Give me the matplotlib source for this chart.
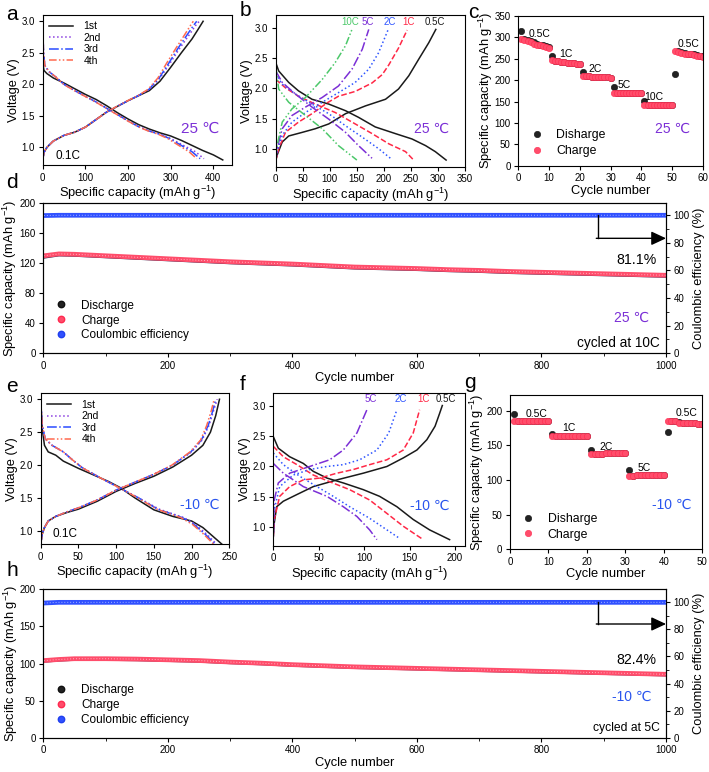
import matplotlib.pyplot as plt
import numpy as np
from matplotlib.lines import Line2D

plt.rcParams['font.family'] = ['Liberation Sans', 'DejaVu Sans']
plt.rcParams['mathtext.default'] = 'regular'
plt.rcParams['axes.linewidth'] = 0.8
plt.rcParams['xtick.labelsize'] = 7
plt.rcParams['ytick.labelsize'] = 7
plt.rcParams['xtick.major.size'] = 3
plt.rcParams['ytick.major.size'] = 3
plt.rcParams['xtick.major.width'] = 0.8
plt.rcParams['ytick.major.width'] = 0.8
plt.rcParams['xtick.major.pad'] = 2.5
plt.rcParams['ytick.major.pad'] = 2.5

# ---------------- data ----------------
# panel a (25 C, 0.1C, cycles 1-4)
a_dis1_q = [0, 3, 10, 25, 50, 75, 100, 125, 150, 175, 200, 225, 250, 275, 300, 325, 350, 375, 400, 422]
a_dis1_v = [2.35, 2.22, 2.17, 2.10, 2.02, 1.93, 1.84, 1.76, 1.66, 1.55, 1.45, 1.36, 1.29, 1.23, 1.18, 1.11, 1.03, 0.95, 0.88, 0.80]
a_dis_v = [2.95, 2.5, 2.3, 2.2, 2.12, 2.0, 1.9, 1.81, 1.72, 1.62, 1.52, 1.42, 1.33, 1.26, 1.21, 1.14, 1.03, 0.93, 0.82]
a_dis2_q = [0, 2, 5, 15, 30, 50, 75, 100, 125, 150, 175, 200, 225, 250, 275, 300, 330, 358, 378]
a_dis3_q = [0, 2, 5, 15, 30, 50, 75, 100, 125, 150, 175, 200, 224, 249, 273, 297, 325, 350, 369]
a_dis4_q = [0, 2, 5, 15, 30, 49, 74, 99, 124, 149, 174, 199, 223, 247, 270, 293, 319, 343, 361]
a_chg1_q = [0, 3, 10, 25, 50, 75, 100, 125, 150, 175, 200, 225, 250, 275, 300, 325, 350, 365, 376]
a_chg1_v = [0.8, 0.92, 1.0, 1.1, 1.19, 1.24, 1.32, 1.44, 1.56, 1.65, 1.74, 1.82, 1.9, 2.05, 2.27, 2.5, 2.72, 2.88, 3.0]
a_chg_v = [0.8, 0.92, 1.0, 1.1, 1.19, 1.24, 1.32, 1.44, 1.56, 1.65, 1.74, 1.82, 1.92, 2.1, 2.33, 2.58, 2.8, 2.93, 3.0]
a_chg2_q = [0, 3, 10, 25, 50, 75, 100, 125, 150, 175, 200, 225, 250, 275, 298, 322, 345, 358, 367]
a_chg3_q = [0, 3, 10, 25, 50, 75, 100, 125, 150, 175, 200, 224, 249, 273, 295, 318, 340, 353, 361]
a_chg4_q = [0, 3, 10, 25, 50, 75, 100, 125, 150, 174, 199, 223, 247, 270, 290, 313, 334, 346, 353]

# panel b (25 C, rates)
b_rates = ['0.5C', '1C', '2C', '5C', '10C']
b_dis_q = [[0, 5.5, 24, 42, 67, 98, 129, 153, 184, 221, 252, 277, 295, 315],
           [0, 18, 42, 73, 110, 147, 178, 209, 240, 255],
           [0, 12, 36, 67, 98, 129, 160, 190, 212],
           [0, 12, 36, 67, 98, 129, 153, 178],
           [0, 5.5, 24, 55, 86, 116, 150]]
b_dis_v = [[2.43, 2.29, 2.10, 1.96, 1.82, 1.74, 1.63, 1.52, 1.36, 1.25, 1.16, 1.05, 0.95, 0.81],
           [2.15, 2.01, 1.87, 1.74, 1.60, 1.41, 1.25, 1.08, 0.95, 0.81],
           [2.24, 2.07, 1.91, 1.74, 1.58, 1.38, 1.19, 1.0, 0.84],
           [2.29, 2.1, 1.91, 1.69, 1.49, 1.27, 1.05, 0.84],
           [2.37, 1.99, 1.77, 1.55, 1.33, 1.05, 0.81]]
b_chg_q = [[0, 2.5, 12, 24, 49, 73, 98, 129, 166, 203, 227, 246, 264, 283, 296],
           [0, 5.5, 18, 42, 67, 95, 116, 147, 178, 197, 209, 227, 243],
           [0, 2.5, 12, 30, 55, 86, 116, 147, 172, 190, 208],
           [0, 2.5, 12, 30, 55, 86, 116, 141, 160, 172],
           [0, 2.5, 12, 30, 55, 86, 110, 129, 141]]
b_chg_v = [[0.8, 0.89, 1.11, 1.21, 1.27, 1.33, 1.41, 1.58, 1.71, 1.82, 1.99, 2.21, 2.48, 2.76, 2.98],
           [0.8, 1.0, 1.27, 1.44, 1.58, 1.76, 1.87, 1.95, 2.09, 2.23, 2.39, 2.67, 2.97],
           [0.8, 0.95, 1.22, 1.44, 1.6, 1.77, 1.93, 2.1, 2.32, 2.59, 2.98],
           [0.8, 1.0, 1.33, 1.55, 1.69, 1.85, 2.04, 2.32, 2.65, 2.98],
           [0.8, 1.05, 1.44, 1.66, 1.85, 2.15, 2.43, 2.71, 2.98]]

# panel c (25 C rate capability)
c_cycle = list(range(1, 61))
c_dis = [316, 297, 294, 291, 288, 285, 283, 281, 279, 277,
         257, 245, 244, 243, 242, 241, 240, 239, 238, 237,
         220, 209, 209, 208, 208, 208, 207, 207, 207, 206,
         183, 171, 171, 171, 171, 171, 171, 171, 171, 171,
         152, 142, 142, 142, 142, 142, 142, 142, 142, 142,
         215, 268, 266, 264, 262, 261, 260, 258, 257, 256]
c_chg = [297, 294, 291, 288, 285, 283, 281, 279, 277, 275,
         246, 245, 244, 243, 242, 241, 240, 239, 238, 237,
         210, 209, 209, 208, 208, 208, 207, 207, 207, 206,
         171, 171, 171, 171, 171, 171, 171, 171, 171, 171,
         142, 142, 142, 142, 142, 142, 142, 142, 142, 142,
         268, 266, 264, 262, 261, 260, 258, 257, 256, 255]

# panel d (25 C, 10C long cycling)
d_cycle = [1, 25, 50, 100, 150, 200, 250, 300, 350, 400, 450, 500, 550, 600, 650, 700, 750, 800, 850, 900, 950, 1000]
d_chg = [130, 132.5, 132, 130, 128, 126, 124, 122, 120.5, 119, 117, 115, 114, 113, 111.5, 110.5, 109, 108, 107, 106, 105, 104]
d_dis = [128, 131, 130.5, 128.5, 126.5, 124.5, 122.5, 120.5, 119, 117.5, 115.5, 113.5, 112.5, 111.5, 110, 109, 107.5, 106.5, 105.5, 104.5, 103.5, 102.5]
d_ce = [99.8, 100, 100, 100, 100, 100, 100, 100, 100, 100, 100, 100, 100, 100, 100, 100, 100, 100, 100, 100, 100, 100]

# panel e (-10 C, 0.1C, cycles 1-4)
e_dis1_q = [0, 2, 5, 10, 20, 30, 50, 70, 90, 105, 125, 150, 175, 200, 215, 228, 240]
e_dis1_v = [3.0, 2.55, 2.3, 2.2, 2.15, 2.06, 1.95, 1.85, 1.75, 1.66, 1.5, 1.32, 1.22, 1.15, 1.05, 0.92, 0.8]
e_dis_v = [3.0, 2.6, 2.4, 2.3, 2.2, 2.08, 1.96, 1.8, 1.65, 1.5, 1.33, 1.2, 1.1, 0.95, 0.8]
e_dis2_q = [0, 2, 6, 15, 30, 42, 55, 80, 105, 130, 157, 190, 205, 220, 233]
e_dis3_q = [0, 2, 6, 15, 30, 42, 55, 80, 105, 130, 155, 188, 203, 218, 231]
e_dis4_q = [0, 2, 6, 15, 30, 42, 55, 80, 105, 129, 154, 186, 201, 216, 229]
e_chg1_q = [0, 2, 5, 10, 20, 35, 50, 75, 100, 125, 150, 175, 200, 215, 225, 232, 237]
e_chg1_v = [0.8, 0.95, 1.05, 1.15, 1.22, 1.28, 1.33, 1.45, 1.6, 1.72, 1.83, 1.97, 2.15, 2.3, 2.5, 2.75, 3.0]
e_chg_v = [0.8, 0.95, 1.05, 1.15, 1.22, 1.29, 1.35, 1.47, 1.62, 1.74, 1.86, 2.0, 2.2, 2.38, 2.6, 2.82, 3.0]
e_chg2_q = [0, 2, 5, 10, 20, 35, 50, 75, 100, 125, 150, 175, 200, 214, 223, 229, 234]
e_chg3_q = [0, 2, 5, 10, 20, 35, 50, 75, 100, 125, 150, 175, 199, 213, 222, 228, 232]
e_chg4_q = [0, 2, 5, 10, 20, 35, 50, 75, 100, 125, 150, 174, 198, 212, 220, 226, 230]

# panel f (-10 C, rates)
f_rates = ['0.5C', '1C', '2C', '5C']
f_dis_q = [[0, 5.5, 18, 33, 44, 59, 77, 99, 117, 136, 154, 172, 194],
           [0, 11, 26, 44, 62, 84, 106, 125, 143, 165],
           [0, 11, 29, 48, 66, 84, 106, 125, 138],
           [0, 11, 33, 59, 77, 92, 106, 114]]
f_dis_v = [[2.49, 2.30, 2.16, 2.05, 1.92, 1.81, 1.73, 1.62, 1.51, 1.34, 1.13, 0.96, 0.8],
           [2.33, 2.16, 2.03, 1.86, 1.75, 1.62, 1.45, 1.23, 1.02, 0.8],
           [2.22, 2.03, 1.84, 1.67, 1.51, 1.34, 1.15, 0.96, 0.83],
           [2.05, 1.89, 1.67, 1.51, 1.34, 1.18, 0.96, 0.8]]
f_chg_q = [[0, 1, 3.7, 11, 26, 44, 70, 99, 125, 143, 158, 169, 178, 183, 186],
           [0, 1, 7, 18, 33, 51, 70, 88, 106, 125, 143, 154, 161],
           [0, 1, 7, 22, 40, 59, 77, 95, 114, 127, 136],
           [0, 1, 5.5, 18, 40, 62, 77, 92, 103]]
f_chg_v = [[0.85, 1.07, 1.34, 1.43, 1.54, 1.67, 1.78, 1.89, 2.0, 2.14, 2.27, 2.44, 2.66, 2.87, 3.0],
           [0.85, 1.13, 1.51, 1.67, 1.78, 1.81, 1.89, 1.95, 2.03, 2.11, 2.27, 2.55, 2.93],
           [0.85, 1.29, 1.67, 1.86, 1.95, 2.0, 2.03, 2.11, 2.27, 2.55, 2.93],
           [0.9, 1.45, 1.73, 1.89, 2.0, 2.11, 2.27, 2.55, 2.93]]

# panel g (-10 C rate capability)
g_cycle = list(range(1, 51))
g_dis = [195, 185, 185, 185, 185, 185, 185, 185, 185, 185,
         167, 163, 163, 163, 163, 163, 163, 163, 163, 163,
         143, 138, 138, 138, 139, 139, 139, 139, 139, 139,
         114, 106, 107, 107, 107, 107, 107, 107, 108, 108,
         170, 186, 186, 184, 183, 183, 182, 182, 181, 181]
g_chg = [185, 185, 185, 185, 185, 185, 185, 185, 185, 185,
         163, 163, 163, 163, 163, 163, 163, 163, 163, 163,
         138, 138, 138, 138, 139, 139, 139, 139, 139, 139,
         106, 106, 107, 107, 107, 107, 107, 107, 108, 108,
         186, 186, 185, 183, 183, 182, 182, 182, 181, 181]

# panel h (-10 C, 5C long cycling)
h_cycle = [1, 25, 50, 100, 150, 200, 250, 300, 350, 400, 450, 500, 550, 600, 650, 700, 750, 800, 850, 900, 950, 1000]
h_chg = [104, 105.5, 106.5, 106.5, 106, 105, 104, 102, 100.5, 98.5, 97, 95.5, 94.5, 93.5, 92.5, 91.5, 90.5, 89.5, 88.5, 87.5, 86.5, 85.5]
h_dis = [103, 104.5, 105.5, 105.5, 105, 104, 103, 101, 99.5, 97.5, 96, 94.5, 93.5, 92.5, 91.5, 90.5, 89.5, 88.5, 87.5, 86.5, 85.5, 84.5]
h_ce = [99.5, 100, 100, 100, 100, 100, 100, 100, 100, 100, 100, 100, 100, 100, 100, 100, 100, 100, 100, 100, 100, 100]

# ---------------- styles ----------------
purple = '#7b2fd6'
blue_txt = '#2a55ee'
pink = '#ff4d6b'
cyc_colors = ['#1a1a1a', '#8a3ee0', '#2a4cff', '#ff6a50']
cyc_styles = ['-', ':', '-.', (0, (5, 1.5, 1, 1.5, 1, 1.5))]
rate_colors = {'0.5C': '#1a1a1a', '1C': '#ff2846', '2C': '#2f55ff', '5C': '#7b2fd6', '10C': '#4cc86a'}
rate_styles = {'0.5C': '-', '1C': '--', '2C': ':', '5C': '-.', '10C': (0, (5, 1.5, 1, 1.5, 1, 1.5))}
cap_label = 'Specific capacity (mAh g$^{-1}$)'

fig = plt.figure(figsize=(7.09, 7.72), dpi=100)


def panel_letter(x, y, s):
    fig.text(x / 709, 1 - y / 772, s, fontsize=15, ha='center', va='center')


def cycles_panel(ax, dis, chg, xmax, ylim, xticks):
    ax.plot(dis[0][0], dis[0][1], color=cyc_colors[0], ls=cyc_styles[0], lw=1.1, label='1st')
    for i in range(1, 4):
        ax.plot(dis[i][0], dis[i][1], color=cyc_colors[i], ls=cyc_styles[i], lw=1.1,
                label=['2nd', '3rd', '4th'][i - 1])
    for i in range(4):
        ax.plot(chg[i][0], chg[i][1], color=cyc_colors[i], ls=cyc_styles[i], lw=1.1)
    ax.set_xlim(0, xmax)
    ax.set_ylim(*ylim)
    ax.set_xticks(xticks)
    ax.set_yticks([1.0, 1.5, 2.0, 2.5, 3.0])
    ax.set_xlabel(cap_label, fontsize=9.3, labelpad=1)
    ax.set_ylabel('Voltage (V)', fontsize=9.3, labelpad=1)
    ax.legend(loc='upper left', frameon=False, fontsize=7.5, handlelength=2.3,
              labelspacing=0.15, borderaxespad=0.2, handletextpad=1.0)


# ---- a ----
ax = fig.add_axes([0.0602, 0.7863, 0.2666, 0.1943])
cycles_panel(ax,
             [(a_dis1_q, a_dis1_v), (a_dis2_q, a_dis_v), (a_dis3_q, a_dis_v), (a_dis4_q, a_dis_v)],
             [(a_chg1_q, a_chg1_v), (a_chg2_q, a_chg_v), (a_chg3_q, a_chg_v), (a_chg4_q, a_chg_v)],
             443, (0.72, 3.1), [0, 100, 200, 300, 400])
ax.text(369, 1.29, '25 \u2103', color=purple, fontsize=11, ha='center', va='center')
ax.text(0.07, 0.02, '0.1C', transform=ax.transAxes, fontsize=8.5, va='bottom')
panel_letter(12, 15, 'a')

# ---- b ----
ax = fig.add_axes([0.3889, 0.7841, 0.267, 0.1965])
for k, r in enumerate(b_rates):
    ax.plot(b_dis_q[k], b_dis_v[k], color=rate_colors[r], ls=rate_styles[r], lw=1.1)
    ax.plot(b_chg_q[k], b_chg_v[k], color=rate_colors[r], ls=rate_styles[r], lw=1.1)
for r, xq in zip(b_rates, [295, 246, 210, 171, 137]):
    ax.text(xq, 3.1, r, color=rate_colors[r], fontsize=7, ha='center', va='center')
ax.set_xlim(0, 350)
ax.set_ylim(0.7, 3.22)
ax.set_xticks(range(0, 351, 50))
ax.set_yticks([1.0, 1.5, 2.0, 2.5, 3.0])
ax.set_xlabel(cap_label, fontsize=9.3, labelpad=1)
ax.set_ylabel('Voltage (V)', fontsize=9.3, labelpad=1)
ax.text(288, 1.32, '25 \u2103', color=purple, fontsize=10, ha='center', va='center')
panel_letter(245, 10, 'b')


def rate_panel(ax, cyc, dis, chg, xmax, ylim, yticks, labels, temp, temp_color, temp_xy):
    ax.plot(cyc, dis, 'o', ms=4.6, mfc='#222222', mec='#111111', mew=0.4, label='Disharge')
    ax.plot(cyc, chg, 'o', ms=4.6, mfc=pink, mec='#ff2a50', mew=0.4, label='Charge')
    for s, x, y in labels:
        ax.text(x, y, s, fontsize=7.5, ha='center', va='center')
    ax.set_xlim(0, xmax)
    ax.set_ylim(*ylim)
    ax.set_xticks(range(0, xmax + 1, 10))
    ax.set_yticks(yticks)
    ax.set_xlabel('Cycle number', fontsize=9.3, labelpad=1)
    ax.set_ylabel(cap_label, fontsize=9.3, labelpad=0)
    ax.text(temp_xy[0], temp_xy[1], temp, color=temp_color, fontsize=10, ha='center', va='center')
    ax.legend(loc='lower left', frameon=False, fontsize=8.8, handletextpad=0.8,
              labelspacing=0.3, borderaxespad=0.3, handlelength=1.6)


# ---- c ----
ax = fig.add_axes([0.731, 0.7854, 0.2605, 0.1939])
rate_panel(ax, c_cycle, c_dis, c_chg, 60, (0, 350), range(0, 351, 50),
           [('0.5C', 6.9, 309), ('1C', 15.4, 262), ('2C', 25, 225), ('5C', 34.5, 189),
            ('10C', 44, 160), ('0.5C', 55.2, 284)],
           '25 \u2103', purple, (50, 87))
panel_letter(473, 12, 'c')


def long_panel(ax, cyc, dis, chg, ce, ylim_r, yticks_l, pct, pct_y, temp, temp_color, temp_y,
               note, note_size, arrow_y):
    ax.plot(cyc, dis, color='#20204a', lw=2.0)
    ax.plot(cyc, chg, color=pink, lw=3.4)
    ax.plot(cyc, chg, color='#ffb3c2', lw=0.7, ls=(0, (1, 2)))
    ax.set_xlim(0, 1000)
    ax.set_ylim(0, 200)
    ax.set_yticks(yticks_l)
    ax.set_xticks(range(0, 1001, 200))
    ax.set_xticks(range(100, 1000, 200), minor=True)
    ax.tick_params(which='minor', length=2)
    ax.set_xlabel('Cycle number', fontsize=9.3, labelpad=1)
    ax.set_ylabel(cap_label, fontsize=9.3, labelpad=0)
    ax2 = ax.twinx()
    ax2.plot(cyc, ce, color='#3050ff', lw=3.4)
    ax2.plot(cyc, ce, color='#a8b8ff', lw=0.7, ls=(0, (1, 2)))
    ax2.set_ylim(0, ylim_r)
    ax2.set_yticks(range(0, 101, 20))
    ax2.set_yticks(range(10, 100, 20), minor=True)
    ax2.tick_params(which='minor', length=2)
    ax2.set_ylabel('Coulombic efficiency (%)', fontsize=9.3, labelpad=2)
    ax2.plot([890, 890], [100, arrow_y], color='k', lw=1)
    ax2.annotate('', xy=(1000, arrow_y), xytext=(888, arrow_y),
                 arrowprops=dict(arrowstyle='-|>,head_length=0.6,head_width=0.28',
                                 mutation_scale=15, color='k', lw=1, shrinkA=0, shrinkB=0))
    ax2.text(985, pct_y, pct, fontsize=10.2, ha='right', va='center')
    ax2.text(945, temp_y, temp, color=temp_color, fontsize=10, ha='center', va='center')
    ax2.text(990, 7.5, note, fontsize=note_size, ha='right', va='center')
    handles = [Line2D([], [], ls='none', marker='o', ms=4.6, mfc='#222222', mec='#111111'),
               Line2D([], [], ls='none', marker='o', ms=4.6, mfc=pink, mec='#ff2a50'),
               Line2D([], [], ls='none', marker='o', ms=4.6, mfc='#3050ff', mec='#2040ee')]
    ax.legend(handles, ['Discharge', 'Charge', 'Coulombic efficiency'], loc='lower left',
              frameon=False, fontsize=8.5, handletextpad=1.2, labelspacing=0.25,
              borderaxespad=0.6, handlelength=1.0)


# ---- d ----
ax = fig.add_axes([0.0611, 0.5424, 0.8783, 0.1943])
long_panel(ax, d_cycle, d_dis, d_chg, d_ce, 108.7, range(0, 201, 40), '81.1%', 67.6,
           '25 \u2103', purple, 26, 'cycled at 10C', 9.8, 83.3)
panel_letter(12, 182, 'd')

# ---- e ----
ax = fig.add_axes([0.0574, 0.2953, 0.266, 0.1952])
cycles_panel(ax,
             [(e_dis1_q, e_dis1_v), (e_dis2_q, e_dis_v), (e_dis3_q, e_dis_v), (e_dis4_q, e_dis_v)],
             [(e_chg1_q, e_chg1_v), (e_chg2_q, e_chg_v), (e_chg3_q, e_chg_v), (e_chg4_q, e_chg_v)],
             250, (0.8, 3.09), range(0, 251, 50))
ax.text(211, 1.39, '-10 \u2103', color=blue_txt, fontsize=10, ha='center', va='center')
ax.text(0.06, 0.03, '0.1C', transform=ax.transAxes, fontsize=8.5, va='bottom')
panel_letter(12, 387, 'e')

# ---- f ----
ax = fig.add_axes([0.3855, 0.2931, 0.2704, 0.1974])
for k, r in enumerate(f_rates):
    ax.plot(f_dis_q[k], f_dis_v[k], color=rate_colors[r], ls=rate_styles[r], lw=1.1)
    ax.plot(f_chg_q[k], f_chg_v[k], color=rate_colors[r], ls=rate_styles[r], lw=1.1)
for r, xq in zip(f_rates, [190, 165, 140, 107]):
    ax.text(xq, 3.1, r, color=rate_colors[r], fontsize=7, ha='center', va='center')
ax.set_xlim(0, 211)
ax.set_ylim(0.7, 3.2)
ax.set_xticks(range(0, 201, 50))
ax.set_yticks([1.0, 1.5, 2.0, 2.5, 3.0])
ax.set_xlabel(cap_label, fontsize=9.3, labelpad=1)
ax.set_ylabel('Voltage (V)', fontsize=9.3, labelpad=1)
ax.text(172, 1.36, '-10 \u2103', color=blue_txt, fontsize=10, ha='center', va='center')
panel_letter(243, 385, 'f')

# ---- g ----
ax = fig.add_axes([0.7193, 0.2885, 0.2712, 0.1999])
rate_panel(ax, g_cycle, g_dis, g_chg, 50, (0, 223), range(0, 201, 50),
           [('0.5C', 6.9, 196), ('1C', 15.2, 175), ('2C', 25, 148), ('5C', 35, 117), ('0.5C', 46, 197)],
           '-10 \u2103', blue_txt, (42, 64))
panel_letter(470, 383, 'g')

# ---- h ----
ax = fig.add_axes([0.0611, 0.0444, 0.8783, 0.1922])
long_panel(ax, h_cycle, h_dis, h_chg, h_ce, 109.6, range(0, 201, 50), '82.4%', 57.4,
           '-10 \u2103', blue_txt, 30, 'cycled at 5C', 8.7, 84)
panel_letter(12, 570, 'h')

plt.savefig('out.png', dpi=100)
